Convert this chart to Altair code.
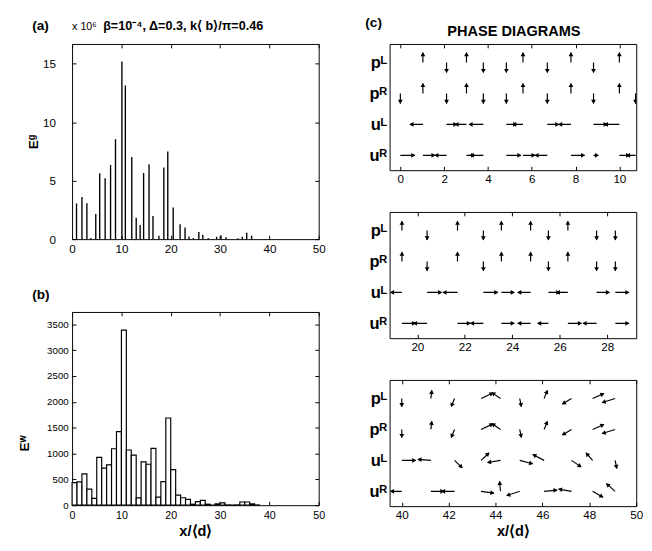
import math
import altair as alt
import pandas as pd

FONT = "Liberation Sans"

# ---------------- panel (a): gravitational energy stems ----------------
a_x = [0.9, 2.0, 3.0, 3.8, 4.8, 5.6, 6.7, 7.8, 8.8, 10.1, 10.8, 12.1, 13.0, 13.8, 14.5,
       15.6, 16.4, 17.6, 18.6, 19.4, 20.5, 21.9, 22.9, 23.7, 24.6, 25.7, 26.5, 27.6,
       29.3, 30.2, 31.2, 33.6, 34.5, 35.4, 36.4]
a_E = [3.05, 3.6, 3.08, 0.1, 2.16, 5.63, 5.2, 6.35, 8.55, 15.2, 13.15, 7.03, 1.83, 1.22,
       5.66, 6.4, 1.97, 0.3, 6.13, 7.49, 2.7, 1.28, 1.0, 0.22, 0.1, 0.62, 0.38, 0.1,
       0.2, 0.32, 0.17, 0.08, 0.2, 0.55, 0.3]
a_ticks_x = [0, 10, 20, 30, 40, 50]
a_ticks_y = [0, 5, 10, 15]

# ---------------- panel (b): histogram, unit bins starting at 0 ----------------
b_E = [437, 450, 606, 312, 131, 925, 718, 781, 1093, 1425, 3390, 1068, 968, 143, 837,
       793, 1100, 156, 456, 1687, 687, 194, 144, 112, 19, 69, 94, 19, 0, 25, 44, 6, 0,
       6, 62, 62, 25, 5]
b_ticks_y = [0, 500, 1000, 1500, 2000, 2500, 3000, 3500]

# ---------------- panel (c): phase diagrams (quiver) ----------------
row_labels = ["uᴿ", "uᴸ", "pᴿ", "pᴸ"]          # rows 1..4 bottom to top

c1_x = [0.0, 1.03, 2.11, 3.02, 3.79, 4.84, 5.60, 6.71, 7.79, 8.82, 10.0, 10.74]
c1_pL_dy = [0, 0.32, -0.32, 0.32, -0.32, -0.32, 0.32, -0.32, 0.32, -0.32, 0.32, 0]
c1_pR_dy = [-0.32, 0.32, -0.32, 0.32, -0.32, -0.32, 0.32, -0.32, 0.32, -0.32, 0.32, -0.32]
c1_uL_dx = [0, -0.59, 0.47, -0.52, -0.65, 0.47, -0.47, 0.52, -0.56, 0.62, -0.68, 0]
c1_uR_dx = [0.66, 0.55, -0.53, 0.37, -0.59, 0.66, 0.55, -0.56, 0.62, 0.18, 0.47, -0.41]
c1_ticks = [0, 2, 4, 6, 8, 10]

c2_x = [19.35, 20.41, 21.69, 22.78, 23.54, 24.77, 25.52, 26.34, 27.55, 28.34]
c2_pL_dy = [0.3, -0.3, 0.3, -0.3, 0.3, 0.3, -0.3, 0.3, -0.3, -0.3]
c2_pR_dy = [0.3, -0.3, 0.3, -0.3, 0.3, 0.3, -0.3, 0.3, -0.3, -0.3]
c2_uL_dx = [-0.48, 0.61, -0.61, 0.61, 0.54, -0.54, 0.48, -0.48, 0.54, 0.57]
c2_uR_dx = [0.57, -0.57, 0.54, -0.54, 0.54, -0.54, -0.45, 0.57, -0.57, 0.57]
c2_ticks = [20, 22, 24, 26, 28]

c3_x = [40.0, 41.24, 42.25, 43.38, 44.21, 45.03, 46.07, 47.24, 48.14, 49.10]
c3_pL_dx = [0, 0.04, -0.14, 0.51, -0.37, 0.07, 0.14, -0.39, 0.48, -0.55]
c3_pL_dy = [-0.26, 0.26, -0.26, 0.18, 0.19, -0.26, 0.26, -0.18, 0.16, -0.13]
c3_pR_dx = [0, 0.04, -0.14, 0.51, -0.37, 0.07, 0.14, -0.39, 0.48, -0.55]
c3_pR_dy = [-0.26, 0.26, -0.26, 0.18, 0.19, -0.26, 0.26, -0.18, 0.16, -0.13]
c3_uL_dx = [0.59, -0.55, 0.33, 0.34, -0.55, 0.55, -0.48, 0.41, -0.28, 0.07]
c3_uL_dy = [0, 0.03, -0.24, 0.24, -0.07, -0.11, 0.19, -0.21, 0.24, -0.26]
c3_uR_dx = [-0.48, 0.55, -0.55, 0.55, -0.04, -0.55, 0.55, -0.55, 0.44, -0.37]
c3_uR_dy = [0, 0, 0, -0.06, 0.32, -0.14, 0.04, 0.07, -0.19, 0.25]
c3_ticks = [40, 42, 44, 46, 48, 50]

# ---------------- layout sizes ----------------
AW, AH = 254, 201
BW, BH = 254, 199
CW, CH = 254, 130
C_YDOM = [0.52, 4.6]
C1_XDOM = [-0.49, 10.77]
C2_XDOM = [18.83, 29.22]
C3_XDOM = [39.48, 50.0]
TICK = dict(ticks=True, tickSize=4, offset=-4, tickColor="black", tickWidth=1)


def quiver(sites, rows, xdom):
    sx = CW / (xdom[1] - xdom[0])
    sy = CH / (C_YDOM[1] - C_YDOM[0])
    recs = []
    for rowval, dxs, dys in rows:
        for x, dx, dy in zip(sites, dxs, dys):
            if dx == 0 and dy == 0:
                continue
            px, py = dx * sx, dy * sy
            L = math.hypot(px, py)
            ang = math.degrees(math.atan2(px, py)) % 360
            back = min(2.2, 0.3 * L)
            recs.append(dict(x=x, y=rowval, x2=x + dx, y2=rowval + dy,
                             hx=x + dx - back * px / L / sx,
                             hy=rowval + dy - back * py / L / sy,
                             ang=ang))
    return pd.DataFrame(recs)


zeros1 = [0] * len(c1_x)
zeros2 = [0] * len(c2_x)
df_c1 = quiver(c1_x, [(4, zeros1, c1_pL_dy), (3, zeros1, c1_pR_dy),
                      (2, c1_uL_dx, zeros1), (1, c1_uR_dx, zeros1)], C1_XDOM)
df_c2 = quiver(c2_x, [(4, zeros2, c2_pL_dy), (3, zeros2, c2_pR_dy),
                      (2, c2_uL_dx, zeros2), (1, c2_uR_dx, zeros2)], C2_XDOM)
df_c3 = quiver(c3_x, [(4, c3_pL_dx, c3_pL_dy), (3, c3_pR_dx, c3_pR_dy),
                      (2, c3_uL_dx, c3_uL_dy), (1, c3_uR_dx, c3_uR_dy)], C3_XDOM)

label_expr = ("datum.value == 4 ? '%s' : datum.value == 3 ? '%s' : datum.value == 2 ? '%s' : '%s'"
              % (row_labels[3], row_labels[2], row_labels[1], row_labels[0]))


def text_layer(txt, x, y, size, weight="bold"):
    return alt.Chart(pd.DataFrame({"t": [txt]})).mark_text(
        align="left", baseline="middle", font=FONT, fontSize=size,
        fontWeight=weight, color="black"
    ).encode(text="t:N", x=alt.value(x), y=alt.value(y))


def frame_ticks(df, xf, yf, xs, ys, xvals, yvals):
    """Invisible layer that only carries the inward ticks on the top and right edges."""
    if yvals:
        yax = alt.Axis(orient="right", values=yvals, labels=False, domain=False, **TICK)
    else:
        yax = None
    return alt.Chart(df).mark_point(opacity=0).encode(
        x=alt.X(f"{xf}:Q", scale=xs, title=None,
                axis=alt.Axis(orient="top", values=xvals, labels=False, domain=False, **TICK)),
        y=alt.Y(f"{yf}:Q", scale=ys, title=None, axis=yax))


def phase_panel(df, xdom, ticks, xtitle=None):
    xs = alt.Scale(domain=xdom, nice=False, zero=False)
    ys = alt.Scale(domain=C_YDOM, nice=False, zero=False)
    xax = alt.Axis(values=ticks, labelFontSize=12, labelPadding=4, titleFontSize=15,
                   titleFontWeight="bold", titlePadding=3, **TICK)
    yax = alt.Axis(values=[1, 2, 3, 4], labelExpr=label_expr, labelFontSize=17,
                   labelFontWeight="bold", labelPadding=3, ticks=False)
    base = alt.Chart(df)
    rules = base.mark_rule(color="black", strokeWidth=1.2, clip=True).encode(
        x=alt.X("x:Q", scale=xs, axis=xax, title=xtitle),
        y=alt.Y("y:Q", scale=ys, axis=yax, title=None),
        x2="x2:Q", y2="y2:Q")
    heads = base.mark_point(shape="triangle", filled=True, color="black", size=24,
                            opacity=1, clip=True).encode(
        x=alt.X("hx:Q", scale=xs, axis=None),
        y=alt.Y("hy:Q", scale=ys, axis=None),
        angle=alt.Angle("ang:Q", scale=None))
    top = frame_ticks(df, "x", "y", xs, ys, ticks, None)
    return rules, heads, top


# ---- (a)
df_a = pd.DataFrame({"x": a_x, "E": a_E})
xs_a = alt.Scale(domain=[0, 50], nice=False)
ys_a = alt.Scale(domain=[0, 16.7], nice=False)
stems = alt.Chart(df_a).mark_rule(color="black", strokeWidth=1.4).encode(
    x=alt.X("x:Q", scale=xs_a,
            axis=alt.Axis(values=a_ticks_x, labelFontSize=12, labelPadding=5, **TICK),
            title=None),
    y=alt.Y("E:Q", scale=ys_a,
            axis=alt.Axis(values=a_ticks_y, labelFontSize=12, labelPadding=17,
                          titleFontSize=14, titleFontWeight="bold", titlePadding=2, **TICK),
            title="Eᵍ"),
    y2=alt.datum(0))
chart_a = alt.layer(
    stems,
    frame_ticks(df_a, "x", "E", xs_a, ys_a, a_ticks_x, a_ticks_y),
    text_layer("(a)", -41, -18, 14),
    text_layer("x 10⁶", 0, -17, 11, "normal"),
    text_layer("β=10⁻⁴, Δ=0.3, k⟨ b⟩/π=0.46", 32, -18, 13),
).resolve_axis(x="independent", y="independent").properties(width=AW, height=AH)

# ---- (b)
df_b = pd.DataFrame({"lo": list(range(len(b_E))), "E": b_E})
df_b["hi"] = df_b["lo"] + 1
xs_b = alt.Scale(domain=[0, 50], nice=False)
ys_b = alt.Scale(domain=[0, 3740], nice=False)
bars = alt.Chart(df_b).mark_bar(fill="white", stroke="black", strokeWidth=1.2).encode(
    x=alt.X("lo:Q", scale=xs_b,
            axis=alt.Axis(values=a_ticks_x, labelFontSize=11, labelPadding=5,
                          titleFontSize=15, titleFontWeight="bold", titlePadding=3, **TICK),
            title="x/⟨d⟩"),
    x2="hi:Q",
    y=alt.Y("E:Q", scale=ys_b,
            axis=alt.Axis(values=b_ticks_y, format="d", labelFontSize=10, labelPadding=4,
                          titleFontSize=14, titleFontWeight="bold", titlePadding=16,
                          titleY=135, **TICK),
            title="Eʷ"),
    y2=alt.datum(0))
chart_b = alt.layer(
    bars,
    frame_ticks(df_b, "lo", "E", xs_b, ys_b, a_ticks_x, b_ticks_y),
    text_layer("(b)", -41, -17, 14),
).resolve_axis(x="independent", y="independent").properties(width=BW, height=BH)

# ---- (c)
r1, h1, t1 = phase_panel(df_c1, C1_XDOM, c1_ticks)
chart_c1 = alt.layer(
    r1, h1, t1,
    text_layer("(c)", -25, -21, 14),
    alt.Chart(pd.DataFrame({"t": ["PHASE DIAGRAMS"]})).mark_text(
        align="center", baseline="middle", font=FONT, fontSize=15, fontWeight="bold",
        color="black").encode(text="t:N", x=alt.value(CW / 2 + 1), y=alt.value(-13)),
).resolve_axis(x="independent", y="independent").properties(width=CW, height=CH)
r2, h2, t2 = phase_panel(df_c2, C2_XDOM, c2_ticks)
chart_c2 = alt.layer(r2, h2, t2).resolve_axis(
    x="independent", y="independent").properties(width=CW, height=CH)
r3, h3, t3 = phase_panel(df_c3, C3_XDOM, c3_ticks, "x/⟨d⟩")
chart_c3 = alt.layer(r3, h3, t3).resolve_axis(
    x="independent", y="independent").properties(width=CW, height=CH)

left = alt.vconcat(chart_a, chart_b, spacing=75, bounds="flush")
right = alt.vconcat(chart_c1, chart_c2, chart_c3, spacing=43, bounds="flush")

chart = alt.hconcat(left, right, spacing=39).properties(
    padding={"left": 9, "top": 0, "right": 0, "bottom": 0}
).configure(font=FONT).configure_view(
    stroke="black", strokeWidth=1
).configure_axis(
    grid=False, domain=False, labelColor="black", titleColor="black",
    labelFont=FONT, titleFont=FONT, labelFlush=False
)

chart.save("out.html", embed_options={"renderer": "svg", "actions": False})
